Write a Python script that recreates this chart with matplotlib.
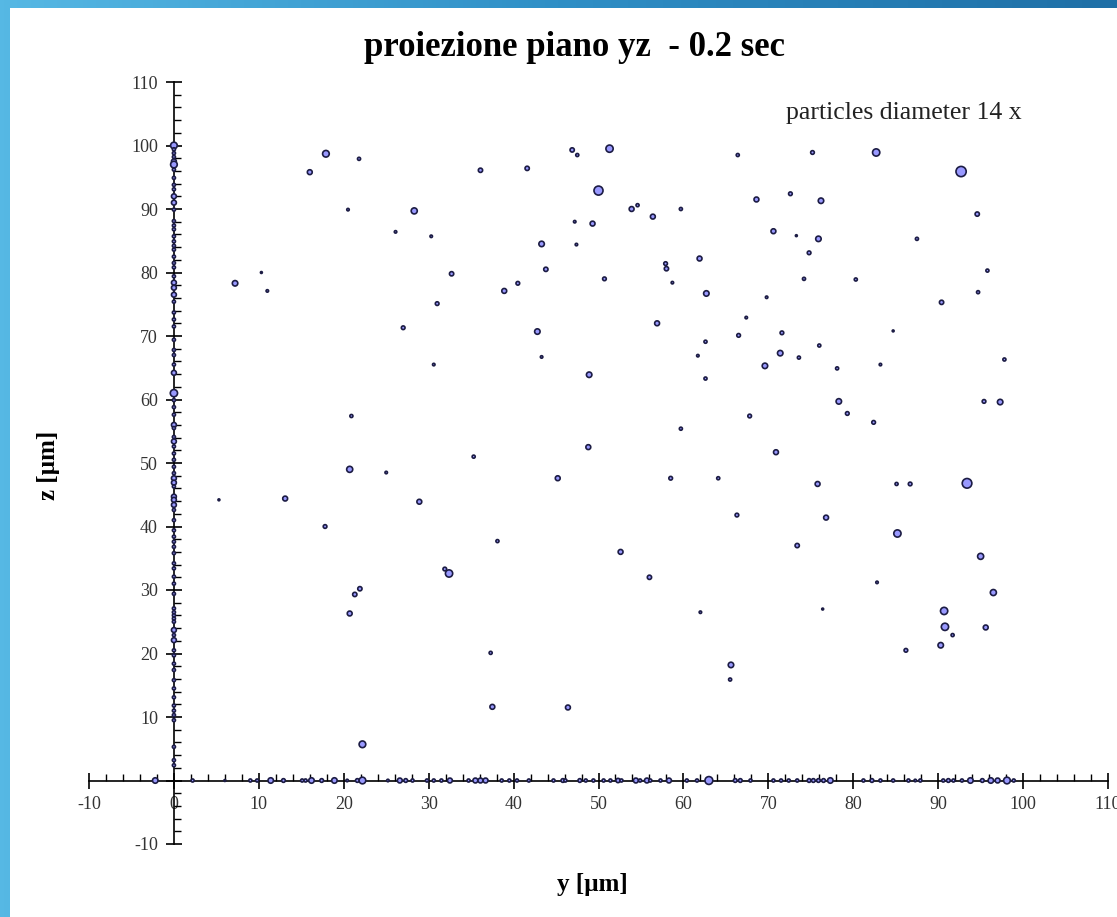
import numpy as np
import matplotlib
matplotlib.use("Agg")
import matplotlib.pyplot as plt
from matplotlib.patches import Rectangle
from matplotlib.colors import LinearSegmentedColormap
from matplotlib.ticker import MultipleLocator, FuncFormatter

plt.rcParams['font.family'] = ['Liberation Serif', 'DejaVu Serif']
plt.rcParams['axes.unicode_minus'] = False

# particles inside the plane: y, z [um] and particle diameter [um]
y_in = [17.9, 21.8, 16.0, 36.1, 41.6, 46.9, 47.5, 51.3, 50.0, 53.9,
        54.6, 20.5, 28.3, 26.1, 30.3, 47.2, 49.3, 43.3, 47.4, 10.3,
        7.2, 11.0, 32.7, 43.8, 40.5, 38.9, 50.7, 31.0, 27.0, 42.8,
        43.3, 30.6, 48.9, 20.9,
        66.4, 75.2, 82.7, 92.7, 68.6, 72.6, 76.2, 94.6, 59.7, 56.4,
        70.6, 73.3, 75.9, 87.5, 74.8, 57.9, 58.0, 61.9, 58.7, 95.8,
        62.7, 69.8, 74.2, 80.3, 94.7, 90.4, 56.9, 67.4, 62.6, 66.5,
        71.6, 76.0, 84.7, 61.7, 71.4, 73.6, 69.6, 78.1, 83.2, 97.8,
        62.6, 78.3, 79.3, 95.4, 97.3, 67.8, 82.4, 59.7,
        5.3, 13.1, 20.7, 25.0, 28.9, 17.8, 35.3, 45.2, 48.8, 38.1,
        52.6, 31.9, 32.4, 21.9, 21.3, 20.7, 37.3, 37.5, 46.4, 22.2,
        70.9, 58.5, 64.1, 75.8, 85.1, 86.7, 93.4, 66.3, 76.8, 85.2,
        73.4, 95.0, 56.0, 82.8, 96.5, 62.0, 76.4, 90.7, 90.8, 91.7,
        95.6, 90.3, 86.2, 65.6, 65.5]
z_in = [98.7, 97.9, 95.8, 96.1, 96.4, 99.3, 98.5, 99.5, 92.9, 90.0,
        90.6, 89.9, 89.7, 86.4, 85.7, 88.0, 87.7, 84.5, 84.4, 80.0,
        78.3, 77.1, 79.8, 80.5, 78.3, 77.1, 79.0, 75.1, 71.3, 70.7,
        66.7, 65.5, 63.9, 57.4,
        98.5, 98.9, 98.9, 95.9, 91.5, 92.4, 91.3, 89.2, 90.0, 88.8,
        86.5, 85.8, 85.3, 85.3, 83.1, 81.4, 80.6, 82.2, 78.4, 80.3,
        76.7, 76.1, 79.0, 78.9, 76.9, 75.3, 72.0, 72.9, 69.1, 70.1,
        70.5, 68.5, 70.8, 66.9, 67.3, 66.6, 65.3, 64.9, 65.5, 66.3,
        63.3, 59.7, 57.8, 59.7, 59.6, 57.4, 56.4, 55.4,
        44.2, 44.4, 49.0, 48.5, 43.9, 40.0, 51.0, 47.6, 52.5, 37.7,
        36.0, 33.3, 32.6, 30.2, 29.3, 26.3, 20.1, 11.6, 11.5, 5.7,
        51.7, 47.6, 47.6, 46.7, 46.7, 46.7, 46.8, 41.8, 41.4, 38.9,
        37.0, 35.3, 32.0, 31.2, 29.6, 26.5, 27.0, 26.7, 24.2, 22.9,
        24.1, 21.3, 20.5, 18.2, 15.9]
d_in = [0.070, 0.040, 0.055, 0.050, 0.050, 0.050, 0.040, 0.075, 0.090, 0.055,
        0.040, 0.035, 0.065, 0.035, 0.035, 0.035, 0.055, 0.060, 0.035, 0.030,
        0.060, 0.035, 0.050, 0.050, 0.045, 0.055, 0.045, 0.045, 0.045, 0.060,
        0.035, 0.035, 0.060, 0.040,
        0.040, 0.045, 0.075, 0.100, 0.055, 0.045, 0.060, 0.050, 0.040, 0.055,
        0.055, 0.030, 0.060, 0.040, 0.045, 0.045, 0.050, 0.055, 0.035, 0.040,
        0.060, 0.035, 0.040, 0.040, 0.040, 0.050, 0.055, 0.035, 0.040, 0.045,
        0.045, 0.040, 0.030, 0.035, 0.060, 0.040, 0.060, 0.040, 0.035, 0.040,
        0.040, 0.060, 0.045, 0.045, 0.060, 0.045, 0.045, 0.040,
        0.030, 0.055, 0.065, 0.035, 0.055, 0.045, 0.040, 0.055, 0.055, 0.040,
        0.055, 0.045, 0.075, 0.050, 0.050, 0.055, 0.040, 0.055, 0.055, 0.070,
        0.055, 0.045, 0.040, 0.055, 0.040, 0.045, 0.095, 0.045, 0.055, 0.075,
        0.050, 0.065, 0.050, 0.035, 0.065, 0.035, 0.030, 0.075, 0.075, 0.040,
        0.055, 0.060, 0.045, 0.060, 0.040]

# particles deposited on the z = 0 wall
y_wall = [-2.2, 2.2, 6.0, 9.0, 9.8, 11.4, 12.9, 15.1, 15.5, 16.2,
          17.4, 18.9, 20.4, 21.6, 22.2, 25.2, 26.6, 27.3, 28.1, 29.8,
          30.6, 31.5, 32.5, 34.7, 35.5, 36.1, 36.7, 38.6, 39.5, 40.4,
          41.8, 44.7, 45.8, 46.1, 47.8, 48.5, 49.4, 50.6, 51.4, 52.3,
          52.7, 54.4, 54.9, 55.7, 56.1, 57.3, 58.3, 60.4, 61.6, 63.0,
          66.1, 66.7, 67.9, 70.6, 71.5, 72.4, 73.4, 74.8, 75.3, 75.9,
          76.5, 77.3, 81.2, 82.2, 83.2, 84.7, 86.5, 87.3, 87.9, 90.6,
          91.2, 91.8, 92.8, 93.8, 95.2, 96.2, 97.0, 98.1, 98.9]
d_ywall = [0.060, 0.040, 0.030, 0.040, 0.040, 0.060, 0.045, 0.040, 0.040, 0.060,
           0.045, 0.060, 0.035, 0.045, 0.070, 0.035, 0.055, 0.045, 0.040, 0.040,
           0.040, 0.040, 0.055, 0.040, 0.055, 0.055, 0.055, 0.040, 0.040, 0.040,
           0.040, 0.040, 0.045, 0.040, 0.045, 0.040, 0.040, 0.040, 0.040, 0.050,
           0.040, 0.055, 0.040, 0.055, 0.040, 0.040, 0.055, 0.040, 0.040, 0.080,
           0.045, 0.045, 0.040, 0.040, 0.040, 0.040, 0.040, 0.045, 0.045, 0.045,
           0.045, 0.060, 0.040, 0.045, 0.040, 0.040, 0.040, 0.035, 0.040, 0.040,
           0.045, 0.040, 0.040, 0.060, 0.045, 0.060, 0.055, 0.070, 0.040]

# particles deposited on the y = 0 wall
z_wall = [100.0, 99.4, 98.8, 98.2, 97.5, 97.0, 96.2, 94.9, 93.8, 93.1,
          92.0, 91.0, 89.9, 88.1, 87.4, 86.8, 85.7, 84.9, 84.2, 83.6,
          82.5, 81.5, 80.8, 79.4, 78.4, 77.6, 76.5, 75.4, 73.7, 72.6,
          71.5, 69.4, 67.8, 67.0, 65.5, 64.2, 61.0, 59.9, 58.8, 57.6,
          56.0, 55.5, 54.1, 53.4, 52.6, 51.5, 50.5, 49.4, 48.4, 47.6,
          46.9, 46.3, 44.7, 44.2, 43.4, 42.6, 41.0, 39.4, 38.4, 37.6,
          36.8, 35.8, 34.2, 33.4, 32.1, 31.0, 29.4, 27.1, 26.5, 26.0,
          25.5, 25.0, 23.7, 22.9, 22.1, 20.5, 19.7, 18.4, 17.4, 15.8,
          14.5, 13.1, 11.8, 11.0, 10.3, 9.5, 5.3, 3.2, 2.4]
d_zwall = [0.070, 0.040, 0.040, 0.040, 0.055, 0.070, 0.040, 0.040, 0.040, 0.040,
           0.055, 0.055, 0.040, 0.040, 0.040, 0.040, 0.040, 0.040, 0.040, 0.040,
           0.040, 0.040, 0.040, 0.040, 0.055, 0.055, 0.055, 0.040, 0.040, 0.040,
           0.040, 0.040, 0.040, 0.040, 0.040, 0.055, 0.075, 0.040, 0.040, 0.040,
           0.055, 0.040, 0.040, 0.055, 0.040, 0.040, 0.040, 0.040, 0.040, 0.055,
           0.055, 0.040, 0.055, 0.055, 0.055, 0.040, 0.040, 0.040, 0.040, 0.040,
           0.040, 0.040, 0.040, 0.040, 0.040, 0.040, 0.040, 0.040, 0.040, 0.040,
           0.040, 0.040, 0.055, 0.040, 0.055, 0.040, 0.040, 0.040, 0.040, 0.040,
           0.040, 0.040, 0.040, 0.040, 0.040, 0.040, 0.040, 0.040, 0.040]

magnification = 14  # particles drawn 14x their real diameter

W, H = 1117, 917
fig = plt.figure(figsize=(W / 100, H / 100), dpi=100)

# blue slide background with a white panel on top
bg = fig.add_axes([0, 0, 1, 1], zorder=-10)
bg.axis('off')
cmap = LinearSegmentedColormap.from_list('slide', ['#56b8e4', '#2f8fc6', '#1f6fa6'])
grad = np.linspace(0, 1, 256).reshape(1, -1)
bg.imshow(grad, aspect='auto', cmap=cmap, extent=[0, 1, 0, 1])
fig.patches.append(Rectangle((10 / W, 0), 1, (H - 8) / H, transform=fig.transFigure,
                             facecolor='white', edgecolor='none', zorder=-5))

ax = fig.add_axes([89 / W, (H - 844) / H, (1108 - 89) / W, (844 - 82) / H])
ax.set_xlim(-10, 110)
ax.set_ylim(-10, 110)
ax.patch.set_visible(False)

# axes crossing at the origin
ax.spines['left'].set_position(('data', 0))
ax.spines['bottom'].set_position(('data', 0))
ax.spines['top'].set_visible(False)
ax.spines['right'].set_visible(False)
for s in ('left', 'bottom'):
    ax.spines[s].set_linewidth(1.2)

ax.xaxis.set_major_locator(MultipleLocator(10))
ax.xaxis.set_minor_locator(MultipleLocator(2))
ax.yaxis.set_major_locator(MultipleLocator(10))
ax.yaxis.set_minor_locator(MultipleLocator(2))
ax.yaxis.set_major_formatter(FuncFormatter(lambda v, _: '' if v == 0 else f'{v:g}'))
ax.tick_params(which='major', direction='inout', length=11, width=1.2,
               labelsize=13, pad=6, colors='black', labelcolor='#333333')
ax.tick_params(which='minor', direction='in', length=5, width=1)

# marker size: real diameter * magnification, in data units -> pixels -> points
ppu = ax.transData.transform((1, 0))[0] - ax.transData.transform((0, 0))[0]
edge_lw = 1.2


def msize(d):
    # outer diameter (edge included) matches the magnified particle size
    diam_pt = np.asarray(d) * magnification * ppu * 72 / fig.dpi - edge_lw
    return diam_pt ** 2


style = dict(c='#9999ff', edgecolors='#1c1c44', linewidths=edge_lw, zorder=3, clip_on=False)
ax.scatter(y_in, z_in, s=msize(d_in), **style)
ax.scatter(y_wall, np.zeros(len(y_wall)), s=msize(d_ywall), **style)
ax.scatter(np.zeros(len(z_wall)), z_wall, s=msize(d_zwall), **style)

fig.text(574 / W, 1 - 48 / H, 'proiezione piano yz  - 0.2 sec', ha='center', va='center',
         fontsize=25, fontweight='bold')
fig.text(786 / W, 1 - 113 / H, 'particles diameter 14 x', ha='left', va='center',
         fontsize=18.5, color='#222222')
fig.text(592 / W, 1 - 885 / H, 'y [µm]', ha='center', va='center',
         fontsize=18, fontweight='bold')
fig.text(48 / W, 1 - 465 / H, 'z [µm]', ha='center', va='center', rotation=90,
         fontsize=18, fontweight='bold')

fig.savefig('out.png', dpi=100)
